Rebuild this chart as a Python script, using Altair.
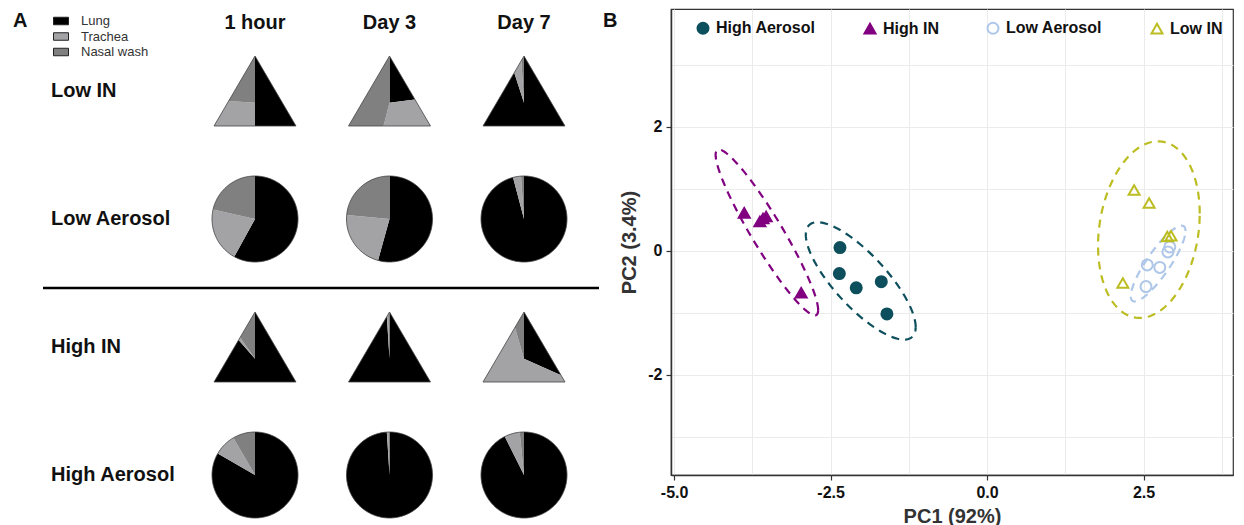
import math
import numpy as np
import pandas as pd
import altair as alt

FONT = "Liberation Sans"

# ---------------- Panel A data ----------------
groups = ["Low IN", "Low Aerosol", "High IN", "High Aerosol"]
times = ["1 hour", "Day 3", "Day 7"]
tissues = ["Lung", "Trachea", "Nasal wash"]
tissue_colors = ["#000000", "#a3a3a6", "#808080"]
pie_shapes = ["triangle", "circle", "triangle", "circle"]

lung_frac = [[0.500, 0.230, 0.950], [0.580, 0.543, 0.959], [0.885, 0.990, 0.317], [0.833, 0.990, 0.926]]
trachea_frac = [[0.260, 0.310, 0.040], [0.205, 0.222, 0.030], [0.018, 0.005, 0.638], [0.083, 0.008, 0.058]]
nasal_frac = [[0.240, 0.460, 0.010], [0.215, 0.235, 0.011], [0.097, 0.005, 0.045], [0.084, 0.002, 0.016]]

# ---------------- Panel B data ----------------
pca_groups = ["High Aerosol", "High IN", "Low Aerosol", "Low IN"]
pca_colors = ["#0d4f5c", "#800080", "#aec7e8", "#bcbd22"]
pca_fills = ["#0d4f5c", "#800080", "transparent", "transparent"]
pca_shapes = ["circle", "triangle-up", "circle", "triangle-up"]
pc1 = {
    "High Aerosol": [-2.35, -2.36, -2.09, -1.69, -1.60],
    "High IN": [-3.88, -3.63, -3.53, -3.58, -2.97],
    "Low Aerosol": [2.56, 2.76, 2.89, 2.54, 2.92],
    "Low IN": [2.35, 2.59, 2.88, 2.94, 2.17],
}
pc2 = {
    "High Aerosol": [0.05, -0.37, -0.60, -0.50, -1.02],
    "High IN": [0.61, 0.47, 0.55, 0.52, -0.68],
    "Low Aerosol": [-0.23, -0.27, -0.02, -0.58, 0.06],
    "Low IN": [0.98, 0.77, 0.23, 0.24, -0.52],
}

# ---------------- pie geometry (unit = pie radius) ----------------
PIE_R = 43.0
PIE_SIZE = (2 * PIE_R) ** 2
TRI_HW = 41.0 / PIE_R
TRI_H = 70.0 / PIE_R
TRI_V = [(0.0, -TRI_H / 2), (TRI_HW, TRI_H / 2), (-TRI_HW, TRI_H / 2)]
TRI_C = (0.0, TRI_H / 6)


def cross(a, b):
    return a[0] * b[1] - a[1] * b[0]


def tri_hit(theta):
    d = (math.sin(math.radians(theta)), -math.cos(math.radians(theta)))
    best = None
    for i in range(3):
        P = TRI_V[i]
        Q = TRI_V[(i + 1) % 3]
        e = (Q[0] - P[0], Q[1] - P[1])
        den = cross(d, e)
        if abs(den) < 1e-12:
            continue
        w = (P[0] - TRI_C[0], P[1] - TRI_C[1])
        t = cross(w, e) / den
        s = cross(w, d) / den
        if t > 1e-9 and -1e-9 <= s <= 1 + 1e-9:
            if best is None or t < best:
                best = t
    return (TRI_C[0] + best * d[0], TRI_C[1] + best * d[1])


def vert_angle(v):
    a = math.degrees(math.atan2(v[0] - TRI_C[0], -(v[1] - TRI_C[1])))
    return a % 360


def wedge(shape, a0, a1):
    if shape == "triangle":
        pts = [TRI_C, tri_hit(a0)]
        inner = sorted([v for v in TRI_V if a0 < vert_angle(v) < a1], key=vert_angle)
        pts += inner
        pts.append(tri_hit(a1))
    else:
        pts = [(0.0, 0.0)]
        n = max(2, int(math.ceil((a1 - a0) / 2.0)) + 1)
        for k in range(n):
            a = math.radians(a0 + (a1 - a0) * k / (n - 1))
            pts.append((math.sin(a), -math.cos(a)))
    return "M" + "L".join(f"{x:.4f},{y:.4f}" for x, y in pts) + "Z"


def outline(shape):
    if shape == "triangle":
        pts = TRI_V
    else:
        pts = [(math.sin(math.radians(a)), -math.cos(math.radians(a))) for a in range(0, 360, 3)]
    return "M" + "L".join(f"{x:.4f},{y:.4f}" for x, y in pts) + "Z"


slice_rows = []
outline_rows = []
for r, g in enumerate(groups):
    for c, t in enumerate(times):
        fr = [lung_frac[r][c], trachea_frac[r][c], nasal_frac[r][c]]
        a = 0.0
        for k, tis in enumerate(tissues):
            a1 = a + fr[k] * 360.0
            if k == len(tissues) - 1:
                a1 = 360.0
            slice_rows.append({"group": g, "time": t, "tissue": tis, "row": r, "col": c,
                               "path": wedge(pie_shapes[r], a, a1), "ord": k})
            a = a1
        outline_rows.append({"group": g, "time": t, "row": r, "col": c, "path": outline(pie_shapes[r])})

slice_df = pd.DataFrame(slice_rows)
outline_df = pd.DataFrame(outline_rows)
rowlab_df = pd.DataFrame({"label": groups, "row": list(range(len(groups)))})
head_df = pd.DataFrame({"label": times, "col": list(range(len(times)))})

WA, HA = 592, 509
x_dom = [-246 / 134.5, (WA - 246) / 134.5]
y_dom = [-82 / 128, (HA - 82) / 128]
xs = alt.Scale(domain=x_dom, nice=False, zero=False)
ys = alt.Scale(domain=y_dom, nice=False, zero=False, reverse=True)

RECT = "M-1,-0.5L1,-0.5L1,0.5L-1,0.5Z"
legA = alt.Legend(title=None, orient="none", legendX=44, legendY=4, symbolType=RECT,
                  symbolSize=225, symbolStrokeColor="#222", symbolStrokeWidth=1,
                  labelFontSize=13, labelColor="#333", labelFont=FONT, labelOffset=12,
                  rowPadding=0.5, padding=0)

slices = alt.Chart(slice_df).mark_point(filled=True, opacity=1, strokeWidth=0).encode(
    x=alt.X("col:Q", scale=xs, axis=None),
    y=alt.Y("row:Q", scale=ys, axis=None),
    shape=alt.Shape("path:N", scale=None),
    fill=alt.Fill("tissue:N", scale=alt.Scale(domain=tissues, range=tissue_colors), legend=legA),
    size=alt.value(PIE_SIZE),
    order=alt.Order("ord:Q"),
)
outlines = alt.Chart(outline_df).mark_point(filled=False, opacity=1, stroke="#444", strokeWidth=0.8).encode(
    x=alt.X("col:Q", scale=xs, axis=None),
    y=alt.Y("row:Q", scale=ys, axis=None),
    shape=alt.Shape("path:N", scale=None),
    size=alt.value(PIE_SIZE),
)
rowlabels = alt.Chart(rowlab_df).mark_text(align="left", baseline="middle", fontSize=20,
                                           fontWeight="bold", font=FONT, color="#111").encode(
    x=alt.value(42),
    y=alt.Y("row:Q", scale=ys, axis=None),
    text="label:N",
)
headers = alt.Chart(head_df).mark_text(align="center", baseline="middle", fontSize=20,
                                       fontWeight="bold", font=FONT, color="#111").encode(
    x=alt.X("col:Q", scale=xs, axis=None),
    y=alt.value(14),
    text="label:N",
)
letterA = alt.Chart(pd.DataFrame({"t": ["A"]})).mark_text(align="left", baseline="middle", fontSize=20,
                                                          fontWeight="bold", font=FONT, color="#111").encode(
    x=alt.value(4), y=alt.value(12), text="t:N")
sep = alt.Chart(pd.DataFrame({"t": [0]})).mark_rule(color="#000", strokeWidth=2.5).encode(
    x=alt.value(34), x2=alt.value(590), y=alt.value(279))

left = alt.layer(slices, outlines, rowlabels, headers, letterA, sep).properties(
    width=WA, height=HA, view=alt.ViewBackground(stroke="transparent"))

# ---------------- Panel B ----------------
pt_rows = []
ell_rows = []
R95 = math.sqrt(5.991)
for g in pca_groups:
    for a, b in zip(pc1[g], pc2[g]):
        pt_rows.append({"group": g, "pc1": a, "pc2": b})
    X = np.array([pc1[g], pc2[g]])
    m = X.mean(axis=1)
    L = np.linalg.cholesky(np.cov(X))
    tt = np.linspace(0, 2 * np.pi, 121)
    E = m[:, None] + R95 * (L @ np.vstack([np.cos(tt), np.sin(tt)]))
    for i in range(E.shape[1]):
        ell_rows.append({"ellipse_of": g, "pc1": E[0, i], "pc2": E[1, i], "i": i})
pt_df = pd.DataFrame(pt_rows)
ell_df = pd.DataFrame(ell_rows)

xsB = alt.Scale(domain=[-5.05, 3.93], nice=False, zero=False)
ysB = alt.Scale(domain=[-3.62, 3.9], nice=False, zero=False)

x_major = "abs(datum.value/2.5 - round(datum.value/2.5)) < 0.001"
y_major = "abs(datum.value/2 - round(datum.value/2)) < 0.001"
axis_common = dict(gridColor="#ebebeb", gridWidth=1, domainColor="#333", domainWidth=1.5,
                   tickColor="#333", tickSize=5, tickWidth=1.2, labelFontSize=16, labelFontWeight="bold",
                   labelColor="#111", labelFont=FONT, titleFontSize=20, titleFontWeight="bold",
                   titleColor="#333", titleFont=FONT, labelPadding=4)
xaxis = alt.Axis(values=[-5, -3.75, -2.5, -1.25, 0, 1.25, 2.5, 3.75],
                 labelExpr=f"{x_major} ? ((datum.value < 0 ? '-' : '') + format(abs(datum.value), '.1f')) : ''",
                 tickOpacity={"condition": {"test": x_major, "value": 1}, "value": 0},
                 titlePadding=6, **axis_common)
yaxis = alt.Axis(values=[-3, -2, -1, 0, 1, 2, 3],
                 labelExpr=f"{y_major} ? ((datum.value < 0 ? '-' : '') + format(abs(datum.value), 'd')) : ''",
                 tickOpacity={"condition": {"test": y_major, "value": 1}, "value": 0},
                 titlePadding=8, **axis_common)

legB = alt.Legend(title=None, orient="none", legendX=24, legendY=11, direction="horizontal", columns=4,
                  columnPadding=44, labelFontSize=16, labelFontWeight="bold", labelColor="#111",
                  labelFont=FONT, symbolSize=121, symbolStrokeWidth=2, labelOffset=5, padding=0)

# ellipse colours: data-derived (alphabetical) domain so this scale stays apart from the legend scales
ells = alt.Chart(ell_df).mark_line(strokeWidth=2.2, strokeDash=[8, 6]).encode(
    x=alt.X("pc1:Q", scale=xsB, axis=xaxis, title="PC1 (92%)"),
    y=alt.Y("pc2:Q", scale=ysB, axis=yaxis, title="PC2 (3.4%)"),
    stroke=alt.Stroke("ellipse_of:N", scale=alt.Scale(range=pca_colors), legend=None),
    order=alt.Order("i:Q"),
)
pts = alt.Chart(pt_df).mark_point(size=121, strokeWidth=2, opacity=1).encode(
    x=alt.X("pc1:Q", scale=xsB, axis=xaxis, title="PC1 (92%)"),
    y=alt.Y("pc2:Q", scale=ysB, axis=yaxis, title="PC2 (3.4%)"),
    color=alt.Color("group:N", scale=alt.Scale(domain=pca_groups, range=pca_colors), legend=legB),
    fill=alt.Fill("group:N", scale=alt.Scale(domain=pca_groups, range=pca_fills), legend=legB),
    shape=alt.Shape("group:N", scale=alt.Scale(domain=pca_groups, range=pca_shapes), legend=legB),
)
letterB = alt.Chart(pd.DataFrame({"t": ["B"]})).mark_text(align="left", baseline="middle", fontSize=20,
                                                          fontWeight="bold", font=FONT, color="#111").encode(
    x=alt.value(-68), y=alt.value(12), text="t:N")

right = alt.layer(ells, pts, letterB).properties(
    width=562, height=466, view=alt.ViewBackground(stroke="#333", strokeWidth=1.2))

chart = (
    alt.hconcat(left, right, spacing=0)
    .resolve_scale(fill="independent", color="independent", shape="independent", stroke="independent")
    .properties(padding=0)
    .configure(font=FONT)
)

chart.save("out.html", embed_options={"renderer": "svg", "actions": False})
